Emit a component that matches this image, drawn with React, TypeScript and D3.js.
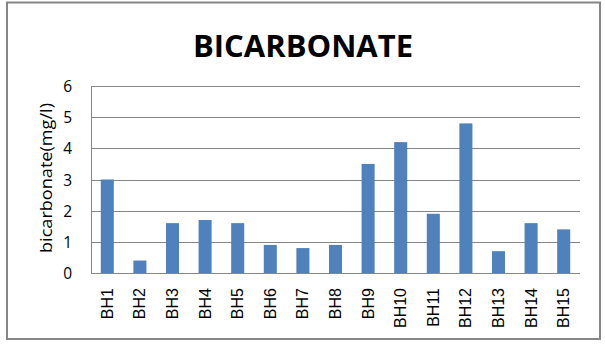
import React from "react";
import * as d3 from "d3";

const categories = ["BH1","BH2","BH3","BH4","BH5","BH6","BH7","BH8","BH9","BH10","BH11","BH12","BH13","BH14","BH15"];
const values = [3.0, 0.4, 1.6, 1.7, 1.6, 0.9, 0.8, 0.9, 3.5, 4.2, 1.9, 4.8, 0.7, 1.6, 1.4];
const yTicks = [0, 1, 2, 3, 4, 5, 6];
const title = "BICARBONATE";
const yTitle = "bicarbonate(mg/l)";

const W = 605, H = 346;
const plot = { left: 91, right: 580, top: 86, bottom: 273 };

export default function App() {
  const x = d3.scaleBand<string>().domain(categories).range([plot.left, plot.right]).padding(0);
  const y = d3.scaleLinear().domain([0, 6]).range([plot.bottom, plot.top]);
  const step = x.step();
  const bw = step * 0.4;
  const grid = "#868686";
  return (
    <svg width={W} height={H} style={{ position: "absolute", left: 0, top: 0, background: "#fff" }}>
      <rect x={7} y={2.5} width={593} height={336.5} fill="#fff" stroke="#868686" strokeWidth={2} />
      <text x={303} y={57} textAnchor="middle" fontFamily="'Open Sans', sans-serif" fontWeight="bold" fontSize={31} fill="#000">{title}</text>
      {yTicks.map(t => (
        <g key={t}>
          {t > 0 && <line x1={plot.left} x2={plot.right} y1={Math.round(y(t)) + 0.5} y2={Math.round(y(t)) + 0.5} stroke={grid} strokeWidth={1} />}
          <text x={72} y={y(t)} textAnchor="end" dominantBaseline="central" fontFamily="'Open Sans', sans-serif" fontSize={15.5} fill="#000">{t}</text>
        </g>
      ))}
      {categories.map((c, i) => (
        <rect key={c} x={(x(c) as number) + (step - bw) / 2} y={y(values[i])} width={bw} height={y(0) - y(values[i])} fill="#4F81BD" />
      ))}
      <line x1={plot.left + 0.5} x2={plot.left + 0.5} y1={plot.top} y2={plot.bottom + 0.5} stroke={grid} />
      <line x1={plot.left} x2={plot.right} y1={plot.bottom + 0.5} y2={plot.bottom + 0.5} stroke={grid} />
      {categories.map(c => {
        const cx = (x(c) as number) + step / 2;
        return (
          <text key={c} transform={`translate(${cx},288) rotate(-90)`} textAnchor="end" dominantBaseline="central" fontFamily="'Liberation Sans', Arial, sans-serif" fontSize={16} fill="#000">{c}</text>
        );
      })}
      <text transform={`translate(45,178) rotate(-90)`} textAnchor="middle" dominantBaseline="central" fontFamily="'Open Sans', sans-serif" fontSize={17} textLength={150} lengthAdjust="spacingAndGlyphs" fill="#000">{yTitle}</text>
    </svg>
  );
}
